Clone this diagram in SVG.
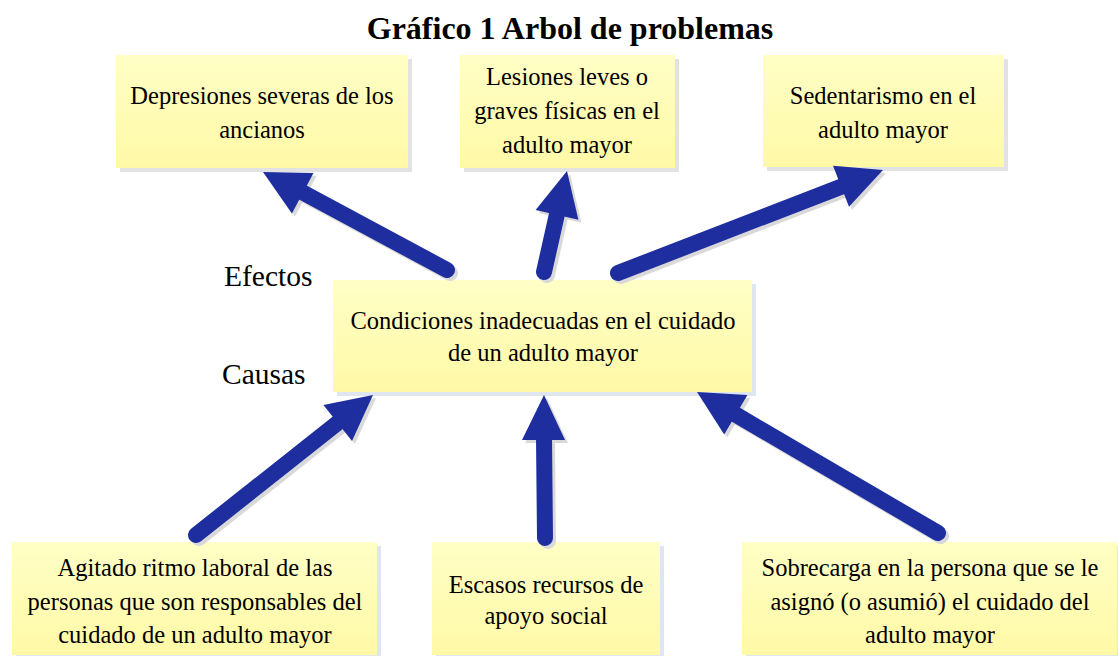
<svg xmlns="http://www.w3.org/2000/svg" width="1118" height="656" viewBox="0 0 1118 656">
<defs>
<linearGradient id="yg" x1="0" y1="0" x2="0" y2="1">
<stop offset="0" stop-color="#FFFFC6"/>
<stop offset="1" stop-color="#FFF9A6"/>
</linearGradient>
</defs>
<style>
.box{fill:url(#yg);}
.sh{fill:#e2e2e2;}
.shb{fill:#dfe6ef;}
text{font-family:'Liberation Serif','Times New Roman',serif;fill:#000;}
.t{font-size:24.5px;text-anchor:middle;}
.lbl{font-size:29.5px;}
.title{font-size:32px;font-weight:bold;text-anchor:middle;}
.ash{stroke:#d9d9d9;stroke-width:16;stroke-linecap:round;fill:none;}
.ashh{fill:#d9d9d9;}
.a{stroke:#1e2e9f;stroke-width:16;stroke-linecap:round;fill:none;}
.ah{fill:#1e2e9f;}
</style>
<rect width="1118" height="656" fill="#fff"/>
<text class="title" x="570" y="39">Gráfico 1 Arbol de problemas</text>

<g id="n-depresiones">
<rect class="sh" x="120" y="59" width="292" height="113"/>
<rect class="box" x="116" y="55" width="292" height="113"/>
<text class="t" x="262" y="104">Depresiones severas de los</text>
<text class="t" x="262" y="138">ancianos</text>
</g>
<g id="n-lesiones">
<rect class="sh" x="464" y="59" width="215" height="113"/>
<rect class="box" x="460" y="55" width="215" height="113"/>
<text class="t" x="567" y="85">Lesiones leves o</text>
<text class="t" x="567" y="119">graves físicas en el</text>
<text class="t" x="567" y="153">adulto mayor</text>
</g>
<g id="n-sedentarismo">
<rect class="sh" x="767" y="59" width="241" height="112"/>
<rect class="box" x="763" y="55" width="241" height="112"/>
<text class="t" x="883" y="104">Sedentarismo en el</text>
<text class="t" x="883" y="138">adulto mayor</text>
</g>
<g id="n-central">
<rect class="shb" x="337" y="284" width="419" height="112"/>
<rect class="box" x="333" y="280" width="419" height="112"/>
<text class="t" x="543" y="329">Condiciones inadecuadas en el cuidado</text>
<text class="t" x="543" y="361">de un adulto mayor</text>
</g>
<g id="n-agitado">
<rect class="shb" x="16" y="546" width="365" height="113"/>
<rect class="box" x="12" y="542" width="365" height="113"/>
<text class="t" x="195" y="576">Agitado ritmo laboral de las</text>
<text class="t" x="195" y="610">personas que son responsables del</text>
<text class="t" x="195" y="643">cuidado de un adulto mayor</text>
</g>
<g id="n-escasos">
<rect class="shb" x="436" y="546" width="228" height="113"/>
<rect class="box" x="432" y="542" width="228" height="113"/>
<text class="t" x="546" y="593">Escasos recursos de</text>
<text class="t" x="546" y="624">apoyo social</text>
</g>
<g id="n-sobrecarga">
<rect class="shb" x="746" y="546" width="372" height="113"/>
<rect class="box" x="742" y="542" width="375" height="113"/>
<text class="t" x="930" y="576">Sobrecarga en la persona que se le</text>
<text class="t" x="930" y="610">asignó (o asumió) el cuidado del</text>
<text class="t" x="930" y="643">adulto mayor</text>
</g>

<text class="lbl" x="224" y="286">Efectos</text>
<text class="lbl" x="222" y="384">Causas</text>

<g id="connectors">
<g transform="translate(3,3)">
<line class="ash" x1="447" y1="270" x2="300" y2="191"/>
<polygon class="ashh" points="263,172 313.5,172.9 291.9,213.5"/>
<line class="ash" x1="544" y1="272" x2="557" y2="214"/>
<polygon class="ashh" points="567,171 578.4,219.8 535.6,210"/>
<line class="ash" x1="618" y1="273" x2="843" y2="186"/>
<polygon class="ashh" points="883,170 849,206.8 833,165.8"/>
<line class="ash" x1="196" y1="535" x2="340" y2="421"/>
<polygon class="ashh" points="373,395 352,441 323.4,404.9"/>
<line class="ash" x1="545" y1="538" x2="544" y2="438"/>
<polygon class="ashh" points="544,395 522,440 565,440"/>
<line class="ash" x1="938" y1="533" x2="733" y2="413"/>
<polygon class="ashh" points="697,392 747.4,394.9 724.2,434.5"/>
</g>
<line class="a" x1="447" y1="270" x2="300" y2="191"/>
<polygon class="ah" points="263,172 313.5,172.9 291.9,213.5"/>
<line class="a" x1="544" y1="272" x2="557" y2="214"/>
<polygon class="ah" points="567,171 578.4,219.8 535.6,210"/>
<line class="a" x1="618" y1="273" x2="843" y2="186"/>
<polygon class="ah" points="883,170 849,206.8 833,165.8"/>
<line class="a" x1="196" y1="535" x2="340" y2="421"/>
<polygon class="ah" points="373,395 352,441 323.4,404.9"/>
<line class="a" x1="545" y1="538" x2="544" y2="438"/>
<polygon class="ah" points="544,395 522,440 565,440"/>
<line class="a" x1="938" y1="533" x2="733" y2="413"/>
<polygon class="ah" points="697,392 747.4,394.9 724.2,434.5"/>
</g>
</svg>
